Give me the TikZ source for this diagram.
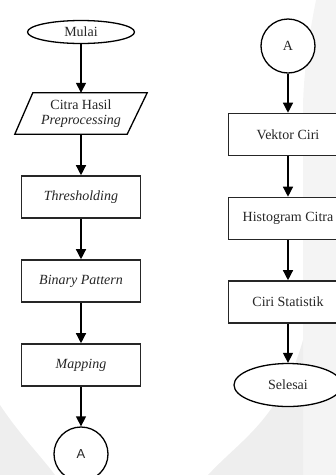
\documentclass[tikz,border=0pt]{standalone}
\usepackage{fontspec}
\setmainfont{Liberation Serif}
\newfontfamily\sansA{Liberation Sans}
\usetikzlibrary{arrows.meta,calc,shapes.geometric}
\definecolor{wmA}{HTML}{EEEEEE}
\definecolor{wmB}{HTML}{F4F4F4}
\definecolor{txt}{HTML}{262626}
\begin{document}
\begin{tikzpicture}[x=1pt,y=-1pt,
  every node/.style={font=\fontsize{14}{16}\selectfont, text=txt},
  procbox/.style={draw=black!85, line width=1.6pt, rectangle, minimum width=119pt, minimum height=42pt, inner sep=0pt, fill=white},
  termbox/.style={draw=black, line width=1.3pt, ellipse, inner sep=0pt, fill=white},
  conn/.style={draw=black, line width=1.3pt, fill=white, circle, minimum size=54pt, inner sep=0pt},
  flow/.style={line width=1.3pt, -{Triangle[length=10pt,width=10pt]}}]
\useasboundingbox (0,0) rectangle (336,475);
% faint watermark
\fill[wmB] (316,0) .. controls (308,40) and (303,80) .. (303,110) -- (303,475) -- (336,475) -- (336,0) -- cycle;
\fill[wmA] (208,475) .. controls (240,440) and (280,420) .. (303,340) -- (303,475) -- cycle;
\fill[wmA] (0,405) .. controls (20,435) and (40,455) .. (55,475) -- (0,475) -- cycle;
% left column
\node[termbox, minimum width=107pt, minimum height=23pt] (mulai) at (81,32) {Mulai};
\node[inner sep=0pt, minimum width=132pt, minimum height=41pt] (para) at (81,113.5) {};
\draw[line width=1.3pt, fill=white] ($(para.north west)+(18,0)$) -- (para.north east) -- ($(para.south east)+(-20,0)$) -- (para.south west) -- cycle;
\node[inner sep=0pt, align=center] (paratext) at (para) {Citra Hasil\\[-1pt]\textit{Preprocessing}};
\node[procbox] (thr) at (81,197) {\textit{Thresholding}};
\node[procbox] (bin) at (81,281) {\textit{Binary Pattern}};
\node[procbox] (map) at (81,365) {\textit{Mapping}};
\node[conn] (a1) at (81,454) {\sansA\fontsize{13}{15}\selectfont A};
\draw[flow] (mulai.south) -- (para.north);
\draw[flow] (para.south) -- (thr.north);
\draw[flow] (thr.south) -- (bin.north);
\draw[flow] (bin.south) -- (map.north);
\draw[flow] (map.south) -- (a1.north);
% right column
\node[conn] (a2) at (288,46) {A};
\node[procbox] (vek) at (288,134.5) {Vektor Ciri};
\node[procbox] (his) at (288,218.5) {Histogram Citra};
\node[procbox] (cst) at (288,302) {Ciri Statistik};
\node[termbox, minimum width=108pt, minimum height=43pt] (sel) at (288,385) {Selesai};
\draw[flow] (a2.south) -- (vek.north);
\draw[flow] (vek.south) -- (his.north);
\draw[flow] (his.south) -- (cst.north);
\draw[flow] (cst.south) -- (sel.north);
\end{tikzpicture}
\end{document}
